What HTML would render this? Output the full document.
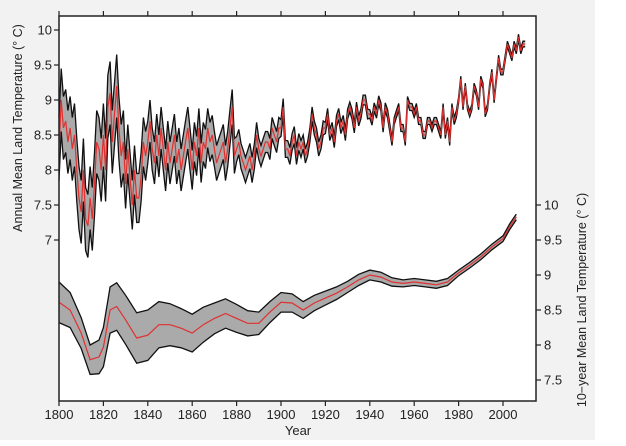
<!DOCTYPE html>
<html><head><meta charset="utf-8">
<style>
html,body{margin:0;padding:0;background:#fff;}
#wrap{position:relative;width:626px;height:446px;overflow:hidden;background:#fff;}
#bg{position:absolute;left:0;top:0;width:595px;height:440px;background:#f2f2f2;}
svg{position:absolute;left:0;top:0;}
text{font-family:"Liberation Sans",sans-serif;fill:#222;}
</style></head>
<body>
<div id="wrap">
<div id="bg"></div>
<svg id="chart" width="626" height="446"></svg>
</div>
<script>
const annualStartYear = 1800;
const annualValues = [
8.3,9.0,8.6,8.7,8.4,8.6,8.3,8.5,8.0,7.6,
7.4,8.0,7.3,7.2,7.6,7.3,7.8,8.4,8.3,8.0,
8.5,8.0,8.9,9.1,8.4,8.8,9.2,8.6,8.2,8.4,
7.8,8.3,7.9,7.5,8.0,7.6,7.6,7.9,8.4,8.2,
8.4,8.7,8.3,8.1,8.5,8.2,8.6,8.3,8.0,8.4,
8.1,8.3,8.5,8.1,8.3,8.0,8.2,8.4,8.6,8.3,
8.0,8.4,8.2,8.6,8.1,8.4,8.3,8.6,8.4,8.5,
8.3,8.1,8.2,8.3,8.4,8.1,8.3,8.6,8.9,8.2,
8.3,8.4,8.2,8.1,8.0,8.1,8.2,8.0,8.2,8.5,
8.3,8.2,8.3,8.4,8.4,8.3,8.6,8.5,8.4,8.6,
8.6,8.9,8.3,8.3,8.2,8.4,8.5,8.2,8.4,8.3,
8.4,8.2,8.3,8.5,8.8,8.6,8.5,8.3,8.4,8.6,
8.6,8.8,8.5,8.6,8.4,8.7,8.8,8.6,8.7,8.5,
8.8,8.9,8.8,8.6,8.9,8.7,8.8,9.0,9.0,8.8,
8.8,8.7,8.9,8.8,9.0,8.9,8.6,8.9,8.8,8.6,
8.4,8.7,8.8,8.9,8.6,8.6,8.4,9.0,8.9,8.9,
8.8,8.9,8.7,8.7,8.5,8.5,8.7,8.7,8.6,8.7,
8.7,8.6,8.5,8.9,8.5,8.7,8.4,8.9,8.7,8.8,
9.0,9.3,8.9,9.2,8.9,8.8,8.9,9.2,9.1,8.9,
9.3,9.2,8.8,8.9,9.2,9.4,9.0,9.3,9.6,9.4,
9.4,9.6,9.8,9.7,9.6,9.8,9.7,9.9,9.7,9.8,
9.8];
const annualUncByDecade = [0.45,0.45,0.45,0.35,0.3,0.3,0.28,0.25,0.18,0.15,0.12,0.1,0.08,0.07,0.06,0.05,0.05,0.05,0.04,0.04,0.04,0.04];

const smoothYears = [1800,1805,1810,1814,1818,1820,1823,1826,1830,1835,1840,1845,1850,1855,1860,1865,1870,1875,1880,1885,1890,1895,1900,1905,1910,1915,1920,1925,1930,1935,1940,1945,1950,1955,1960,1965,1970,1975,1980,1985,1990,1995,2000,2003,2006];
const smoothValues = [8.61,8.50,8.17,7.79,7.83,7.97,8.50,8.55,8.36,8.10,8.14,8.29,8.29,8.24,8.17,8.29,8.38,8.45,8.38,8.31,8.31,8.47,8.61,8.60,8.50,8.60,8.67,8.74,8.83,8.93,9.00,8.97,8.90,8.88,8.90,8.88,8.86,8.90,9.03,9.14,9.26,9.40,9.52,9.69,9.83];
const smoothUnc = [0.29,0.25,0.22,0.21,0.24,0.28,0.33,0.34,0.35,0.36,0.36,0.33,0.30,0.28,0.27,0.25,0.22,0.21,0.20,0.18,0.16,0.15,0.14,0.13,0.12,0.11,0.10,0.09,0.08,0.08,0.07,0.07,0.06,0.05,0.05,0.05,0.05,0.05,0.04,0.04,0.04,0.04,0.04,0.04,0.04];

const xTicks = [1800,1820,1840,1860,1880,1900,1920,1940,1960,1980,2000];
const leftTicks = [7,7.5,8,8.5,9,9.5,10];
const rightTicks = [7.5,8,8.5,9,9.5,10];

const NS = 'http://www.w3.org/2000/svg';
const svg = document.getElementById('chart');
const L=59,R=536,T=16,B=401;
function xs(yr){return 59+(yr-1800)*(444/200);}
function yl(v){return 30+(10-v)*70;}
function yr2(v){return 205+(10-v)*70;}
function mk(tag,attrs){const e=document.createElementNS(NS,tag);for(const k in attrs)e.setAttribute(k,attrs[k]);svg.appendChild(e);return e;}

mk('rect',{x:L,y:T,width:R-L,height:B-T,fill:'#fff'});

// smoothed band
{
  let up=[],lo=[],mid=[];
  smoothYears.forEach((y,i)=>{const x=xs(y);up.push([x,yr2(smoothValues[i]+smoothUnc[i])]);lo.push([x,yr2(smoothValues[i]-smoothUnc[i])]);mid.push([x,yr2(smoothValues[i])]);});
  const p=a=>a.map(q=>q[0].toFixed(1)+','+q[1].toFixed(1)).join(' ');
  const band=mk('polygon',{points:p(up)+' '+p(lo.slice().reverse()),fill:'#aaaaaa'});
  
  
  const u=mk('polyline',{points:p(up),fill:'none',stroke:'#111','stroke-width':1.3});
  
  
  const l=mk('polyline',{points:p(lo),fill:'none',stroke:'#111','stroke-width':1.3});
  
  
  const m=mk('polyline',{points:p(mid),fill:'none',stroke:'#e03030','stroke-width':1.2});
  
  
}
// annual band
{
  let up=[],lo=[],mid=[];
  annualValues.forEach((v,i)=>{const yr=annualStartYear+i;const x=xs(yr);const u=annualUncByDecade[Math.floor(i/10)];up.push([x,yl(v+u)]);lo.push([x,yl(v-u)]);mid.push([x,yl(v)]);});
  const p=a=>a.map(q=>q[0].toFixed(1)+','+q[1].toFixed(1)).join(' ');
  const band=mk('polygon',{points:p(up)+' '+p(lo.slice().reverse()),fill:'#aaaaaa'});
  
  
  const u=mk('polyline',{points:p(up),fill:'none',stroke:'#111','stroke-width':1.3});
  
  
  const l=mk('polyline',{points:p(lo),fill:'none',stroke:'#111','stroke-width':1.3});
  
  
  const m=mk('polyline',{points:p(mid),fill:'none',stroke:'#e03030','stroke-width':1.2});
  
  
}

const frame=mk('rect',{x:L,y:T,width:R-L,height:B-T,fill:'none',stroke:'#222','stroke-width':1.5});



xTicks.forEach(t=>{
  const x=xs(t);
  mk('line',{x1:x,x2:x,y1:B,y2:B+5,stroke:'#222','stroke-width':1.2});
  mk('line',{x1:x,x2:x,y1:T,y2:T-5,stroke:'#222','stroke-width':1.2});
  const tx=mk('text',{x:x,y:B+18,'text-anchor':'middle','font-size':13});
  tx.textContent=t;
  
  
});
leftTicks.forEach(t=>{
  const y=yl(t);
  mk('line',{x1:L,x2:L-5,y1:y,y2:y,stroke:'#222','stroke-width':1.2});
  const tx=mk('text',{x:L-7,y:y+4.5,'text-anchor':'end','font-size':13});
  tx.textContent=t;
  
  
});
rightTicks.forEach(t=>{
  const y=yr2(t);
  mk('line',{x1:R,x2:R+5,y1:y,y2:y,stroke:'#222','stroke-width':1.2});
  const tx=mk('text',{x:R+8,y:y+4.5,'text-anchor':'start','font-size':13});
  tx.textContent=t;
  
  
});
</script>
<svg width="626" height="446" style="position:absolute;left:0;top:0;pointer-events:none">
<text x="298" y="435" text-anchor="middle" font-size="13">Year</text>
<text transform="translate(22,128) rotate(-90)" text-anchor="middle" font-size="12.5">Annual Mean Land Temperature (° C)</text>
<text transform="translate(586,300) rotate(-90)" text-anchor="middle" font-size="12.5">10−year Mean Land Temperature (° C)</text>
</svg>
</body></html>
